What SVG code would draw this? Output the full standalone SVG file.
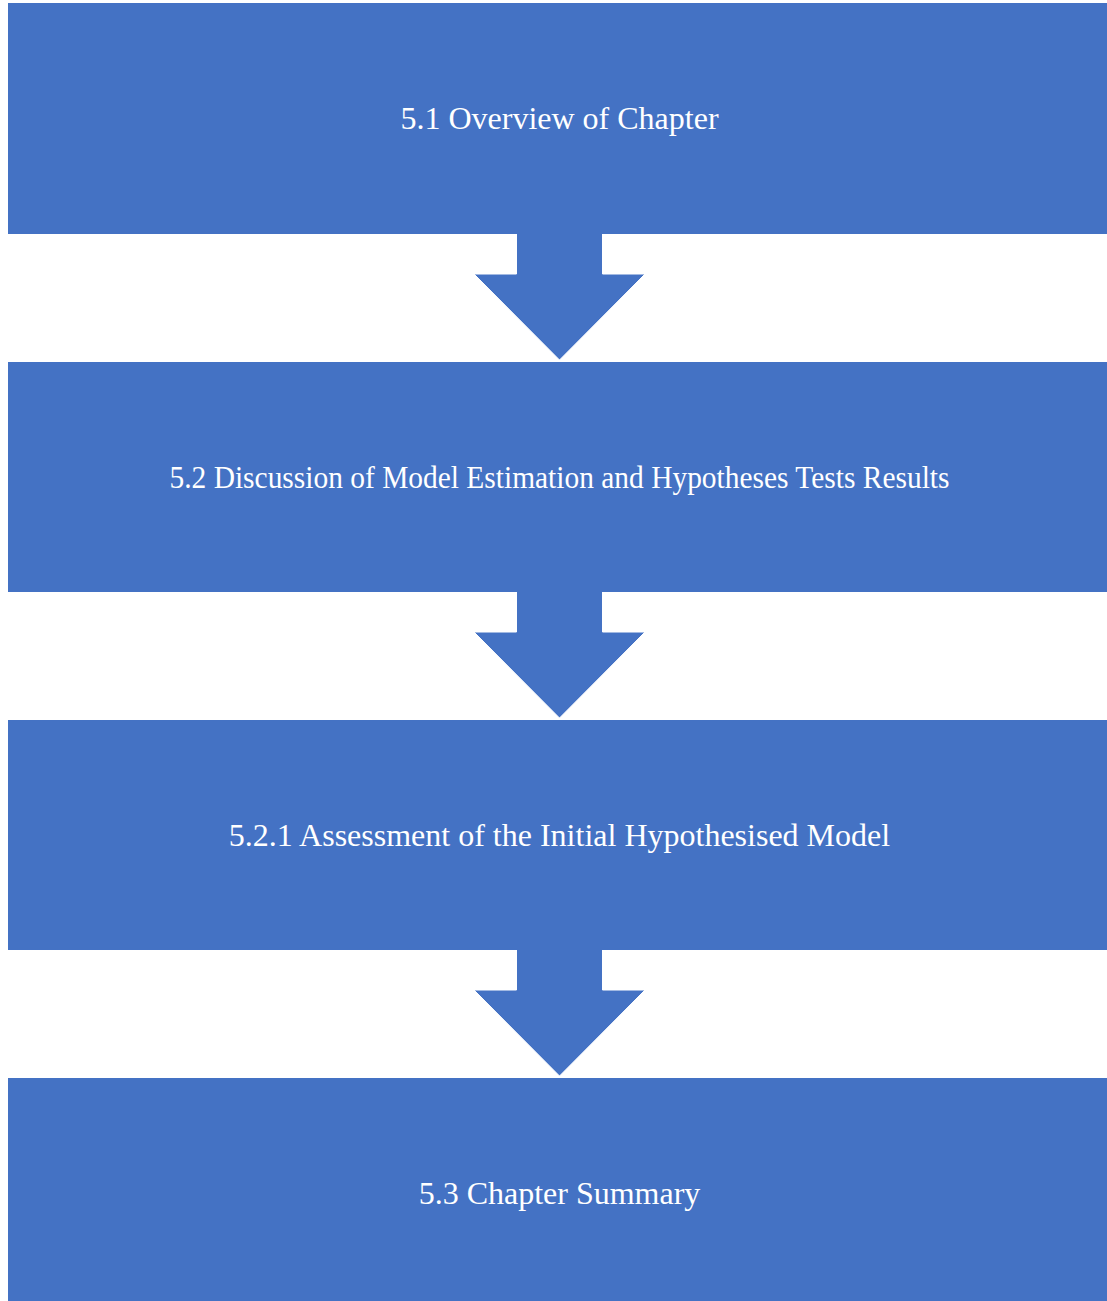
<svg xmlns="http://www.w3.org/2000/svg" width="1107" height="1301" viewBox="0 0 1107 1301">
  <style>
    .box { fill: #4472C4; }
    .arrow { fill: #4472C4; }
    .edge { fill: none; stroke: #FFFFFF; stroke-width: 1; stroke-linejoin: miter; }
    .label { font-family: "Liberation Serif", "Times New Roman", serif; font-size: 32px; fill: #FFFFFF; text-anchor: middle; dominant-baseline: central; }
  </style>
  <rect width="1107" height="1301" fill="#FFFFFF"/>
  <g id="node-overview">
    <rect class="box" x="8" y="3" width="1103" height="231"/>
    <text class="label" x="559.5" y="118">5.1 Overview of Chapter</text>
  </g>
  <g id="node-discussion">
    <rect class="box" x="8" y="362" width="1103" height="230"/>
    <text class="label" x="559.5" y="477" textLength="780" lengthAdjust="spacingAndGlyphs">5.2 Discussion of Model Estimation and Hypotheses Tests Results</text>
  </g>
  <g id="node-assessment">
    <rect class="box" x="8" y="720" width="1103" height="230"/>
    <text class="label" x="559.5" y="835">5.2.1 Assessment of the Initial Hypothesised Model</text>
  </g>
  <g id="node-summary">
    <rect class="box" x="8" y="1078" width="1103" height="230"/>
    <text class="label" x="559.5" y="1193">5.3 Chapter Summary</text>
  </g>
  <g id="connectors">
    <path class="arrow" d="M516.5,233 H602.5 V274 H645 L559.5,360 L474,274 H516.5 Z"/>
    <path class="edge" d="M602.5,234 V274 H645 L559.5,360 L474,274 H516.5 V234"/>
    <path class="arrow" d="M516.5,591 H602.5 V632 H645 L559.5,718 L474,632 H516.5 Z"/>
    <path class="edge" d="M602.5,592 V632 H645 L559.5,718 L474,632 H516.5 V592"/>
    <path class="arrow" d="M516.5,949 H602.5 V990 H645 L559.5,1076 L474,990 H516.5 Z"/>
    <path class="edge" d="M602.5,950 V990 H645 L559.5,1076 L474,990 H516.5 V950"/>
  </g>
</svg>
